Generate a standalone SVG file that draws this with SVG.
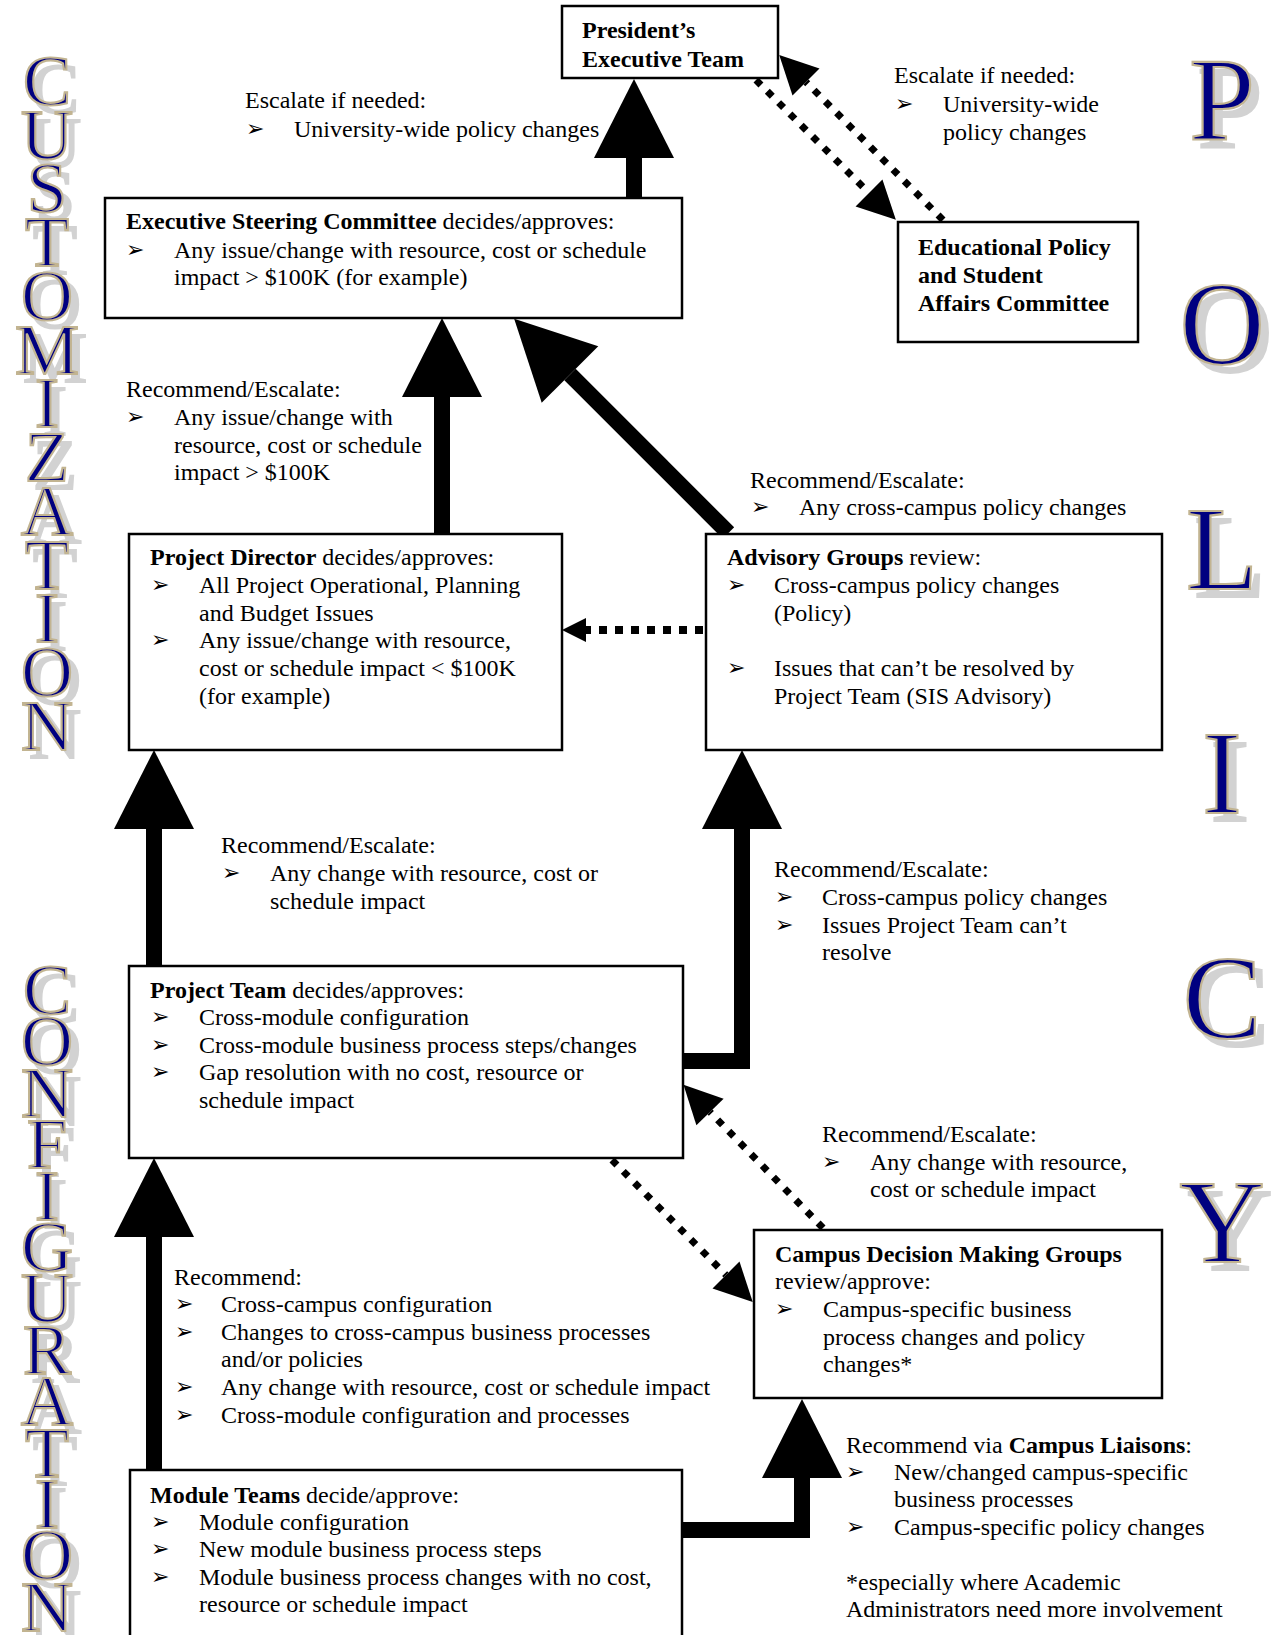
<svg xmlns="http://www.w3.org/2000/svg" width="1277" height="1635" viewBox="0 0 1277 1635">
<style>
  .t { font-family: "Liberation Serif", "Times New Roman", serif; font-size: 24px; fill: #000; }
  .b { font-weight: bold; }
  .bl { font-family: "DejaVu Sans", sans-serif; font-size: 22px; fill: #000; }
  .box { fill: #fff; stroke: #000; stroke-width: 2.5; }
  .solid { fill: none; stroke: #000; stroke-width: 16; stroke-linejoin: miter; }
  .dot { fill: none; stroke: #000; stroke-width: 7; stroke-dasharray: 7 9; }
  .doth { fill: none; stroke: #000; stroke-width: 8; stroke-dasharray: 8 8; }
  .big { font-family: "Liberation Serif", "Times New Roman", serif; text-anchor: middle; fill: #000080; stroke: #C2B491; stroke-width: 2.2; filter: url(#shadow); }
  .l { font-size: 72px; }
  .r { font-size: 118px; }
</style>
<defs>
  <filter id="shadow" x="-30%" y="-10%" width="160%" height="120%">
    <feOffset in="SourceAlpha" dx="8" dy="8" result="off"/>
    <feFlood flood-color="#D2D2D2" result="col"/>
    <feComposite in="col" in2="off" operator="in" result="sh"/>
    <feMerge><feMergeNode in="sh"/><feMergeNode in="SourceGraphic"/></feMerge>
  </filter>
  <marker id="hBig" markerUnits="userSpaceOnUse" markerWidth="79" markerHeight="80" viewBox="0 -40 79 80" refX="0" refY="0" orient="auto" overflow="visible"><path d="M0,-40 L79,0 L0,40 z" fill="#000"/></marker>
  <marker id="hDot" markerUnits="userSpaceOnUse" markerWidth="38" markerHeight="38" viewBox="0 -19 38 38" refX="0" refY="0" orient="auto" overflow="visible"><path d="M0,-19 L38,0 L0,19 z" fill="#000"/></marker>
  <marker id="hSm" markerUnits="userSpaceOnUse" markerWidth="24" markerHeight="24" viewBox="0 -12 24 24" refX="0" refY="0" orient="auto" overflow="visible"><path d="M0,-12 L24,0 L0,12 z" fill="#000"/></marker>
</defs>
<rect width="1277" height="1635" fill="#fff"/>

<!-- side lettering -->
<g id="customization">
  <text class="big l"><tspan x="47" y="105">C</tspan><tspan x="47" y="159">U</tspan><tspan x="47" y="212">S</tspan><tspan x="47" y="266">T</tspan><tspan x="47" y="320">O</tspan><tspan x="47" y="374">M</tspan><tspan x="47" y="427">I</tspan><tspan x="47" y="481">Z</tspan><tspan x="47" y="535">A</tspan><tspan x="47" y="589">T</tspan><tspan x="47" y="642">I</tspan><tspan x="47" y="696">O</tspan><tspan x="47" y="750">N</tspan></text>
</g>
<g id="configuration">
  <text class="big l"><tspan x="47" y="1014">C</tspan><tspan x="47" y="1065">O</tspan><tspan x="47" y="1117">N</tspan><tspan x="47" y="1168">F</tspan><tspan x="47" y="1220">I</tspan><tspan x="47" y="1271">G</tspan><tspan x="47" y="1322">U</tspan><tspan x="47" y="1374">R</tspan><tspan x="47" y="1425">A</tspan><tspan x="47" y="1477">T</tspan><tspan x="47" y="1528">I</tspan><tspan x="47" y="1579">O</tspan><tspan x="47" y="1631">N</tspan></text>
</g>
<g id="policy">
  <text class="big r"><tspan x="1222" y="140">P</tspan><tspan x="1222" y="364">O</tspan><tspan x="1222" y="589">L</tspan><tspan x="1222" y="813">I</tspan><tspan x="1222" y="1038">C</tspan><tspan x="1222" y="1262">Y</tspan></text>
</g>

<!-- connectors -->
<g id="connectors">
  <path class="solid" d="M634,198 V158" marker-end="url(#hBig)"/>
  <path class="solid" d="M442,533 V397" marker-end="url(#hBig)"/>
  <path class="solid" d="M728.5,533 L570,374.5" marker-end="url(#hBig)"/>
  <path class="solid" d="M154,966 V829" marker-end="url(#hBig)"/>
  <path class="solid" d="M683,1061 H742 V829" marker-end="url(#hBig)"/>
  <path class="solid" d="M154,1469 V1237" marker-end="url(#hBig)"/>
  <path class="solid" d="M682,1530 H802 V1478" marker-end="url(#hBig)"/>
  <path class="dot" d="M756,80 L869,193" marker-end="url(#hDot)"/>
  <path class="dot" d="M943,220 L806,82" marker-end="url(#hDot)"/>
  <path class="doth" d="M703,630 H586" marker-end="url(#hSm)"/>
  <path class="dot" d="M612,1160 L726,1275" marker-end="url(#hDot)"/>
  <path class="dot" d="M823,1228 L710,1112" marker-end="url(#hDot)"/>
</g>

<!-- nodes -->
<g id="president">
  <rect class="box" x="562" y="6" width="216" height="72"/>
  <text class="t b" x="582" y="38">President’s</text>
  <text class="t b" x="582" y="67">Executive Team</text>
</g>
<g id="epsac">
  <rect class="box" x="898" y="222" width="240" height="120"/>
  <text class="t b" x="918" y="255">Educational Policy</text>
  <text class="t b" x="918" y="283">and Student</text>
  <text class="t b" x="918" y="311">Affairs Committee</text>
</g>
<g id="esc">
  <rect class="box" x="105" y="198" width="577" height="120"/>
  <text class="t" x="126" y="229"><tspan class="b">Executive Steering Committee</tspan> decides/approves:</text>
  <text class="bl" x="126" y="257">➢</text>
  <text class="t" x="174" y="258">Any issue/change with resource, cost or schedule</text>
  <text class="t" x="174" y="285">impact &gt; $100K (for example)</text>
</g>
<g id="director">
  <rect class="box" x="129" y="534" width="433" height="216"/>
  <text class="t" x="150" y="565"><tspan class="b">Project Director</tspan> decides/approves:</text>
  <text class="bl" x="151" y="592">➢</text>
  <text class="t" x="199" y="593">All Project Operational, Planning</text>
  <text class="t" x="199" y="621">and Budget Issues</text>
  <text class="bl" x="151" y="647">➢</text>
  <text class="t" x="199" y="648">Any issue/change with resource,</text>
  <text class="t" x="199" y="676">cost or schedule impact &lt; $100K</text>
  <text class="t" x="199" y="704">(for example)</text>
</g>
<g id="advisory">
  <rect class="box" x="706" y="534" width="456" height="216"/>
  <text class="t" x="727" y="565"><tspan class="b">Advisory Groups</tspan> review:</text>
  <text class="bl" x="727" y="592">➢</text>
  <text class="t" x="774" y="593">Cross-campus policy changes</text>
  <text class="t" x="774" y="621">(Policy)</text>
  <text class="bl" x="727" y="675">➢</text>
  <text class="t" x="774" y="676">Issues that can’t be resolved by</text>
  <text class="t" x="774" y="704">Project Team (SIS Advisory)</text>
</g>
<g id="team">
  <rect class="box" x="129" y="966" width="554" height="192"/>
  <text class="t" x="150" y="998"><tspan class="b">Project Team</tspan> decides/approves:</text>
  <text class="bl" x="151" y="1024">➢</text>
  <text class="t" x="199" y="1025">Cross-module configuration</text>
  <text class="bl" x="151" y="1052">➢</text>
  <text class="t" x="199" y="1053">Cross-module business process steps/changes</text>
  <text class="bl" x="151" y="1079">➢</text>
  <text class="t" x="199" y="1080">Gap resolution with no cost, resource or</text>
  <text class="t" x="199" y="1108">schedule impact</text>
</g>
<g id="campus">
  <rect class="box" x="754" y="1230" width="408" height="168"/>
  <text class="t b" x="775" y="1262">Campus Decision Making Groups</text>
  <text class="t" x="775" y="1289">review/approve:</text>
  <text class="bl" x="775" y="1316">➢</text>
  <text class="t" x="823" y="1317">Campus-specific business</text>
  <text class="t" x="823" y="1345">process changes and policy</text>
  <text class="t" x="823" y="1372">changes*</text>
</g>
<g id="module">
  <rect class="box" x="130" y="1470" width="552" height="200"/>
  <text class="t" x="150" y="1503"><tspan class="b">Module Teams</tspan> decide/approve:</text>
  <text class="bl" x="151" y="1529">➢</text>
  <text class="t" x="199" y="1530">Module configuration</text>
  <text class="bl" x="151" y="1556">➢</text>
  <text class="t" x="199" y="1557">New module business process steps</text>
  <text class="bl" x="151" y="1584">➢</text>
  <text class="t" x="199" y="1585">Module business process changes with no cost,</text>
  <text class="t" x="199" y="1612">resource or schedule impact</text>
</g>

<!-- connector labels -->
<g id="labels">
  <text class="t" x="245" y="108">Escalate if needed:</text>
  <text class="bl" x="246" y="136">➢</text>
  <text class="t" x="294" y="137">University-wide policy changes</text>

  <text class="t" x="894" y="83">Escalate if needed:</text>
  <text class="bl" x="895" y="111">➢</text>
  <text class="t" x="943" y="112">University-wide</text>
  <text class="t" x="943" y="140">policy changes</text>

  <text class="t" x="126" y="397">Recommend/Escalate:</text>
  <text class="bl" x="126" y="424">➢</text>
  <text class="t" x="174" y="425">Any issue/change with</text>
  <text class="t" x="174" y="453">resource, cost or schedule</text>
  <text class="t" x="174" y="480">impact &gt; $100K</text>

  <text class="t" x="750" y="488">Recommend/Escalate:</text>
  <text class="bl" x="751" y="514">➢</text>
  <text class="t" x="799" y="515">Any cross-campus policy changes</text>

  <text class="t" x="221" y="853">Recommend/Escalate:</text>
  <text class="bl" x="222" y="880">➢</text>
  <text class="t" x="270" y="881">Any change with resource, cost or</text>
  <text class="t" x="270" y="909">schedule impact</text>

  <text class="t" x="774" y="877">Recommend/Escalate:</text>
  <text class="bl" x="775" y="904">➢</text>
  <text class="t" x="822" y="905">Cross-campus policy changes</text>
  <text class="bl" x="775" y="932">➢</text>
  <text class="t" x="822" y="933">Issues Project Team can’t</text>
  <text class="t" x="822" y="960">resolve</text>

  <text class="t" x="822" y="1142">Recommend/Escalate:</text>
  <text class="bl" x="822" y="1169">➢</text>
  <text class="t" x="870" y="1170">Any change with resource,</text>
  <text class="t" x="870" y="1197">cost or schedule impact</text>

  <text class="t" x="174" y="1285">Recommend:</text>
  <text class="bl" x="175" y="1311">➢</text>
  <text class="t" x="221" y="1312">Cross-campus configuration</text>
  <text class="bl" x="175" y="1339">➢</text>
  <text class="t" x="221" y="1340">Changes to cross-campus business processes</text>
  <text class="t" x="221" y="1367">and/or policies</text>
  <text class="bl" x="175" y="1394">➢</text>
  <text class="t" x="221" y="1395">Any change with resource, cost or schedule impact</text>
  <text class="bl" x="175" y="1422">➢</text>
  <text class="t" x="221" y="1423">Cross-module configuration and processes</text>

  <text class="t" x="846" y="1453">Recommend via <tspan class="b">Campus Liaisons</tspan>:</text>
  <text class="bl" x="846" y="1479">➢</text>
  <text class="t" x="894" y="1480">New/changed campus-specific</text>
  <text class="t" x="894" y="1507">business processes</text>
  <text class="bl" x="846" y="1534">➢</text>
  <text class="t" x="894" y="1535">Campus-specific policy changes</text>
  <text class="t" x="846" y="1590">*especially where Academic</text>
  <text class="t" x="846" y="1617">Administrators need more involvement</text>
</g>
</svg>
